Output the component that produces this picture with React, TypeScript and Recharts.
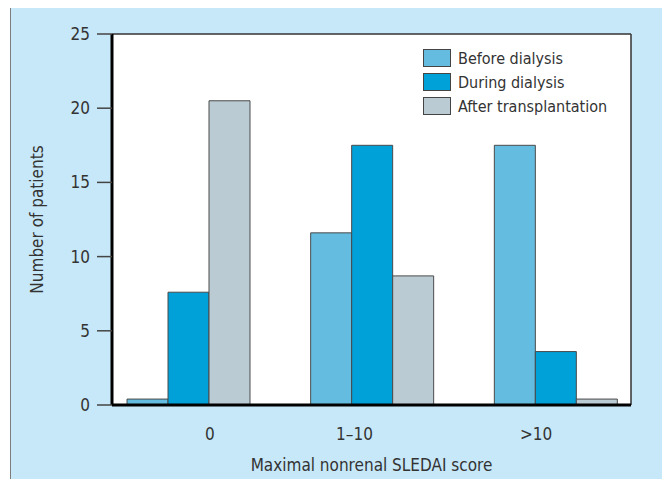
import { BarChart, Bar, XAxis, YAxis, Legend, CartesianGrid, Label } from 'recharts'

const categories = ['0', '1–10', '>10']
const beforeDialysis = [0.4, 11.6, 17.5]
const duringDialysis = [7.6, 17.5, 3.6]
const afterTransplantation = [20.5, 8.7, 0.4]
const yTicks = [0, 5, 10, 15, 20, 25]

const SERIES = [
  { key: 'before', name: 'Before dialysis', color: '#64bde1' },
  { key: 'during', name: 'During dialysis', color: '#00a0d8' },
  { key: 'after', name: 'After transplantation', color: '#bacbd3' },
]

// the printed labels sit a little off the group centres
const TICK_NUDGE = [21, -18, -20]

const FONT = '"Liberation Sans Narrow", "DejaVu Sans Condensed", "Open Sans", sans-serif'
const TEXT = '#333'

const data = categories.map((c, i) => ({
  cat: c,
  before: beforeDialysis[i],
  during: duringDialysis[i],
  after: afterTransplantation[i],
}))

function XTick(props: any) {
  const { x, y, payload, index } = props
  return (
    <text x={x + (TICK_NUDGE[index] ?? 0)} y={y + 35} textAnchor="middle" fill={TEXT} fontSize={17} fontFamily={FONT}>
      {payload.value}
    </text>
  )
}

function LegendBox() {
  return (
    <div style={{ fontFamily: FONT, fontSize: 16, color: TEXT }}>
      {SERIES.map(s => (
        <div key={s.key} style={{ display: 'flex', alignItems: 'center', height: 24 }}>
          <span
            style={{
              width: 26,
              height: 16,
              background: s.color,
              border: '1.5px solid #444',
              marginRight: 7,
              display: 'inline-block',
            }}
          />
          <span>{s.name}</span>
        </div>
      ))}
    </div>
  )
}

export default function App() {
  return (
    <div style={{ position: 'relative', width: 670, height: 487, margin: -8, overflow: 'hidden', background: '#fff' }}>
      <div
        style={{
          position: 'absolute',
          left: 10,
          top: 5,
          width: 680,
          height: 500,
          background: '#c7e8f8',
          border: '1px solid #7d7d7d',
        }}
      />
      <div style={{ position: 'absolute', left: 0, top: 0 }}>
        <BarChart
          width={670}
          height={487}
          data={data}
          margin={{ top: 34, right: 39, left: 20, bottom: 22 }}
          barGap={0}
          barSize={41}
        >
          {/* white plot area, with the thin top and right frame lines */}
          <CartesianGrid
            fill="#fff"
            stroke="#333"
            strokeWidth={1.5}
            horizontalCoordinatesGenerator={({ offset }: any) => [offset.top]}
            verticalCoordinatesGenerator={({ offset }: any) => [offset.left + offset.width]}
          />
          <XAxis
            dataKey="cat"
            height={60}
            padding={{ left: -15, right: -17 }}
            axisLine={{ stroke: '#000', strokeWidth: 3 }}
            tickLine={false}
            tickSize={0}
            tickMargin={0}
            tick={<XTick />}
          >
            <Label
              value="Maximal nonrenal SLEDAI score"
              position="insideBottom"
              offset={-6}
              fill={TEXT}
              fontSize={17}
              fontFamily={FONT}
            />
          </XAxis>
          <YAxis
            width={92}
            domain={[0, 25]}
            ticks={yTicks}
            interval={0}
            axisLine={{ stroke: '#000', strokeWidth: 3 }}
            tickLine={{ stroke: '#444', strokeWidth: 1.5 }}
            tickSize={15}
            tickMargin={7}
            tick={{ fill: TEXT, fontSize: 17, fontFamily: FONT }}
          >
            <Label
              value="Number of patients"
              angle={-90}
              position="insideLeft"
              offset={17}
              fill={TEXT}
              fontSize={17}
              fontFamily={FONT}
              style={{ textAnchor: 'middle' }}
            />
          </YAxis>
          <Legend
            layout="vertical"
            verticalAlign="middle"
            align="center"
            content={<LegendBox />}
            wrapperStyle={{ left: 423, top: 46, width: 200 }}
          />
          {SERIES.map(s => (
            <Bar
              key={s.key}
              dataKey={s.key}
              name={s.name}
              fill={s.color}
              stroke="#4a4a4a"
              strokeWidth={1}
              isAnimationActive={false}
            />
          ))}
        </BarChart>
      </div>
    </div>
  )
}
